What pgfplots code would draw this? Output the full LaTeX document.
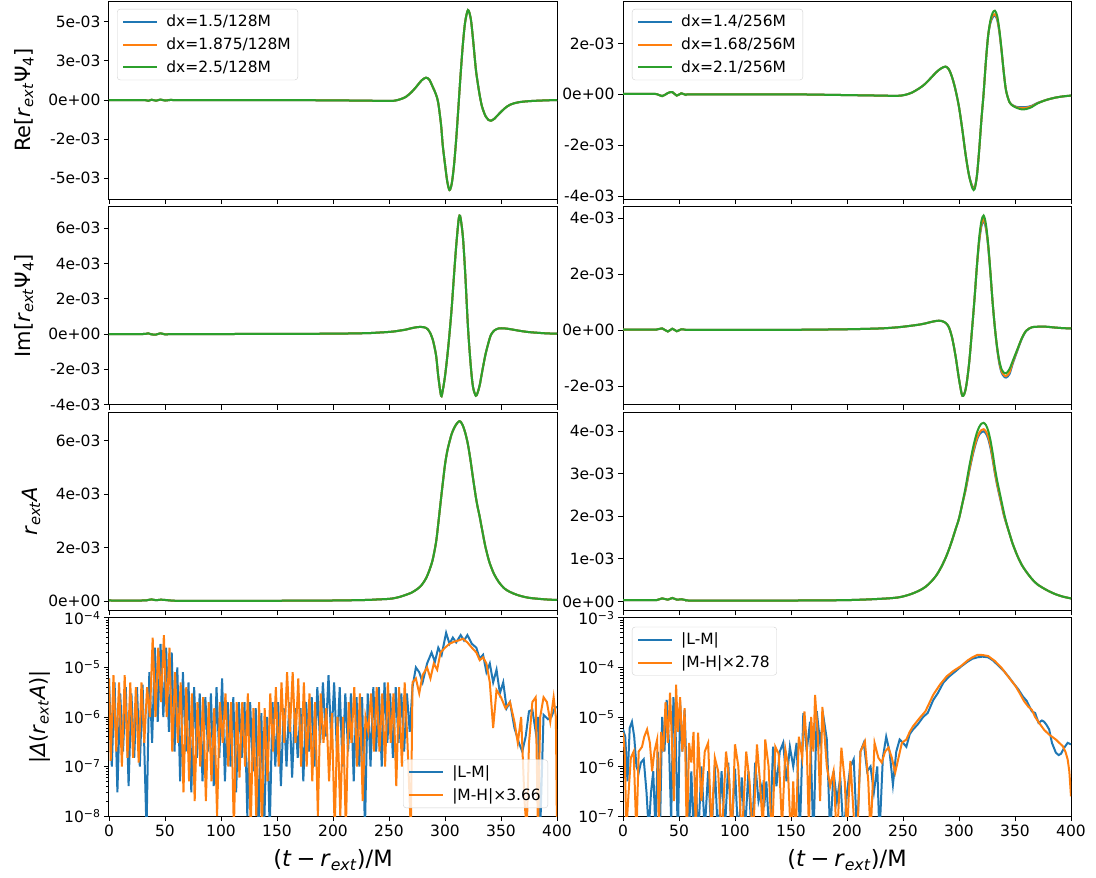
\documentclass[border=0pt]{standalone}
\usepackage{fontspec}
\setmainfont{DejaVu Sans}
\usepackage{pgfplots}
\usepackage{pgfplotstable}
\pgfplotsset{compat=1.18}
\definecolor{c0}{HTML}{1F77B4}
\definecolor{c1}{HTML}{FF7F0E}
\definecolor{c2}{HTML}{2CA02C}
\newcommand\tsz{\fontsize{15.5}{18.5}\selectfont}
\newcommand\lsz{\fontsize{21}{25}\selectfont}
\newcommand\xsz{\fontsize{22.5}{26}\selectfont}

% left column waveform (all three resolutions coincide), units of 1e-3
\pgfplotstableread{
t re im amp
0 0 0 0.03
30 0 0 0.03
35 -0.05 0.04 0.05
38 0.02 -0.02 0.07
42 -0.04 -0.03 0.04
46 0.03 0.04 0.06
50 -0.03 -0.02 0.05
55 0.01 0.0 0.03
60 0 0 0.02
100 0 0 0.02
150 0 0.01 0.02
200 -0.02 0.02 0.03
230 -0.04 0.05 0.05
240 -0.05 0.08 0.07
250 -0.06 0.12 0.09
255 -0.04 0.15 0.12
260 0.05 0.2 0.17
265 0.2 0.25 0.24
270 0.5 0.33 0.32
275 0.9 0.39 0.45
279 1.25 0.4 0.6
283 1.43 0.35 0.85
286 1.3 0.15 1.15
289 0.85 -0.3 1.55
292 0.35 -1.2 2.2
294 -0.2 -2.4 2.9
296.5 -1.6 -3.5 3.85
298 -2.9 -3.2 4.4
300 -4.1 -2.4 5.1
302 -5.2 -1.3 5.6
304 -5.75 0.0 5.95
306 -5.35 1.5 6.25
308 -4.2 3.3 6.45
310 -2.5 5.0 6.6
312 -0.43 6.4 6.7
313 0.65 6.72 6.72
314 1.7 6.55 6.7
316 3.6 5.5 6.55
318 4.98 3.5 6.3
320.5 5.75 0.4 5.85
323 5.2 -1.8 5.2
325 3.9 -3.0 4.6
327.5 2.0 -3.5 3.9
329 1.2 -3.35 3.55
331 0.3 -2.9 3.15
333 -0.4 -2.2 2.7
336 -1.0 -1.2 2.05
339 -1.28 -0.45 1.55
341 -1.32 -0.05 1.3
344 -1.2 0.2 1.0
348 -0.9 0.32 0.72
353 -0.55 0.32 0.48
358 -0.3 0.28 0.35
365 -0.15 0.2 0.23
375 -0.07 0.11 0.13
390 -0.02 0.04 0.07
400 0 0.02 0.05
}\leftwave

% right column waveform, units of 1e-3
\pgfplotstableread{
t reb reo reg imb imo img ab ao ag
0 0.02 0.02 0.02 0.02 0.02 0.02 0.03 0.03 0.03
20 0.02 0.02 0.02 0.02 0.02 0.02 0.03 0.03 0.03
30 0.01 0.01 0.01 0.02 0.02 0.02 0.03 0.03 0.03
35 -0.07 -0.07 -0.07 0.06 0.06 0.06 0.07 0.07 0.07
40 0.05 0.05 0.05 -0.05 -0.05 -0.05 0.04 0.04 0.04
44 0.09 0.09 0.09 0.05 0.05 0.05 0.08 0.08 0.08
48 -0.05 -0.05 -0.05 -0.04 -0.04 -0.04 0.04 0.04 0.04
52 0.04 0.04 0.04 0.03 0.03 0.03 0.05 0.05 0.05
56 -0.02 -0.02 -0.02 0.01 0.01 0.01 0.03 0.03 0.03
60 0 0 0 0.01 0.01 0.01 0.02 0.02 0.02
100 0 0 0 0.01 0.01 0.01 0.02 0.02 0.02
150 0 0 0 0.01 0.01 0.01 0.02 0.02 0.02
200 -0.03 -0.03 -0.03 0.03 0.03 0.03 0.03 0.03 0.03
230 -0.05 -0.05 -0.05 0.06 0.06 0.06 0.06 0.06 0.06
245 -0.06 -0.06 -0.06 0.1 0.1 0.1 0.09 0.09 0.09
252 -0.02 -0.02 -0.02 0.13 0.13 0.13 0.13 0.13 0.13
258 0.07 0.07 0.07 0.16 0.16 0.16 0.18 0.18 0.18
265 0.25 0.25 0.25 0.2 0.2 0.2 0.26 0.26 0.26
270 0.42 0.42 0.42 0.24 0.24 0.24 0.34 0.34 0.34
275 0.65 0.65 0.65 0.29 0.29 0.29 0.46 0.46 0.46
280 0.88 0.88 0.88 0.33 0.33 0.33 0.62 0.62 0.62
284 1.02 1.02 1.02 0.33 0.33 0.33 0.8 0.8 0.8
288 1.09 1.09 1.09 0.26 0.26 0.26 1.02 1.02 1.02
291 0.98 0.98 0.98 0.1 0.1 0.1 1.22 1.22 1.22
294 0.65 0.65 0.65 -0.3 -0.3 -0.3 1.45 1.45 1.45
297 0.15 0.15 0.15 -0.95 -0.95 -0.95 1.7 1.7 1.7
300 -0.5 -0.5 -0.5 -1.75 -1.75 -1.75 1.95 1.95 1.95
303 -1.4 -1.4 -1.4 -2.35 -2.35 -2.35 2.3 2.3 2.3
306 -2.4 -2.4 -2.4 -2.1 -2.1 -2.1 2.63 2.65 2.7
309 -3.2 -3.2 -3.2 -1.2 -1.2 -1.2 3.04 3.07 3.15
312 -3.62 -3.65 -3.7 0.2 0.2 0.2 3.41 3.45 3.55
314 -3.65 -3.68 -3.72 1.2 1.2 1.2 3.62 3.66 3.78
316 -3.2 -3.2 -3.2 2.3 2.3 2.3 3.8 3.84 3.97
318 -2.2 -2.2 -2.2 3.15 3.2 3.3 3.92 3.96 4.1
320 -1.0 -1.0 -1.0 3.72 3.78 3.9 3.98 4.03 4.18
322 0.05 0.05 0.05 3.9 3.97 4.1 4.0 4.05 4.2
324 1.3 1.3 1.3 3.65 3.7 3.8 3.95 4.0 4.15
326 2.3 2.3 2.3 3.0 3.05 3.1 3.83 3.88 4.02
328 2.8 2.85 2.9 2.05 2.08 2.1 3.62 3.67 3.8
330 3.02 3.08 3.2 1.0 1.0 1.0 3.34 3.38 3.5
332 3.1 3.15 3.29 0.1 0.1 0.1 3.02 3.05 3.15
334 2.95 3.0 3.1 -0.65 -0.62 -0.6 2.74 2.77 2.85
336 2.45 2.5 2.55 -1.2 -1.15 -1.1 2.5 2.53 2.6
338 1.7 1.72 1.75 -1.52 -1.47 -1.4 2.27 2.29 2.35
340 0.85 0.85 0.85 -1.65 -1.6 -1.52 2.03 2.05 2.1
342 0.15 0.15 0.15 -1.7 -1.65 -1.55 1.85 1.86 1.88
345 -0.3 -0.3 -0.3 -1.58 -1.52 -1.4 1.6 1.6 1.6
348 -0.43 -0.44 -0.45 -1.2 -1.15 -1.1 1.35 1.35 1.35
352 -0.5 -0.52 -0.54 -0.75 -0.72 -0.7 1.08 1.08 1.08
356 -0.5 -0.53 -0.59 -0.32 -0.3 -0.3 0.86 0.86 0.86
360 -0.5 -0.53 -0.58 -0.03 -0.02 -0.02 0.7 0.7 0.7
365 -0.45 -0.47 -0.5 0.1 0.1 0.1 0.53 0.53 0.53
370 -0.34 -0.35 -0.36 0.12 0.12 0.12 0.4 0.4 0.4
378 -0.22 -0.22 -0.22 0.12 0.12 0.12 0.27 0.27 0.27
386 -0.13 -0.13 -0.13 0.09 0.09 0.09 0.17 0.17 0.17
393 -0.08 -0.08 -0.08 0.07 0.07 0.07 0.11 0.11 0.11
400 -0.05 -0.05 -0.05 0.06 0.06 0.06 0.07 0.07 0.07
}\rightwave

\pgfplotsset{
 panel/.style={
   width=448pt, height=198.1pt, scale only axis,
   xmin=0, xmax=400, xtick={0,50,100,150,200,250,300,350,400},
   tick align=outside, tick pos=left,
   major tick length=5pt, minor tick length=3pt,
   axis line style={line width=1pt},
   tick style={black, line width=0.9pt},
   tick label style={font=\tsz},
   every axis plot/.append style={line width=2pt},
   every axis y label/.style={rotate=90, anchor=center, font=\lsz, at={(rel axis cs:-0.19,0.5)}},
   every axis x label/.style={anchor=center, font=\xsz, at={(rel axis cs:0.5,-0.222)}},
   legend style={draw=black!18, rounded corners=3pt, fill=white, fill opacity=0.8, text opacity=1, font=\tsz, inner xsep=5pt, inner ysep=4pt, row sep=5.5pt, cells={anchor=west},
     /tikz/every odd column/.append style={column sep=6pt}},
   legend image code/.code={\draw[#1, line width=2pt] (0pt,0pt) -- (34pt,0pt);},
 },
 wave/.style={panel, xticklabels={}, every axis plot/.append style={smooth, tension=0.5}},
 botrow/.style={xticklabels={0,50,100,150,200,250,300,350,400}, xlabel={(\textit{t}\hspace{0.22em}−\hspace{0.22em}\textit{r}\textsubscript{\textit{ext}})/M}},
}

\begin{document}
\begin{tikzpicture}
\path[use as bounding box] (0pt,0pt) rectangle (1096pt,-878pt);

% ---------------- Row 1 left ----------------
\begin{axis}[wave, at={(109pt,-1pt)}, anchor=north west,
  ymin=-6.33, ymax=6.33, ytick={-5,-2.5,0,2.5,5},
  yticklabels={-5e-03,-2e-03,0e+00,3e-03,5e-03},
  ylabel={Re[\textit{r}\textsubscript{\textit{ext}}Ψ\textsubscript{4}]},
  legend style={at={(0.018,0.96)}, anchor=north west}]
\addplot[c0] table[x=t,y=re] {\leftwave};
\addlegendentry{dx=1.5/128M}
\addplot[c1] table[x=t,y=re] {\leftwave};
\addlegendentry{dx=1.875/128M}
\addplot[c2] table[x=t,y=re] {\leftwave};
\addlegendentry{dx=2.5/128M}
\end{axis}

% ---------------- Row 1 right ----------------
\begin{axis}[wave, at={(623pt,-1pt)}, anchor=north west,
  ymin=-4.12, ymax=3.67, ytick={-4,-2,0,2},
  yticklabels={-4e-03,-2e-03,0e+00,2e-03},
  legend style={at={(0.02,0.96)}, anchor=north west}]
\addplot[c0] table[x=t,y=reb] {\rightwave};
\addlegendentry{dx=1.4/256M}
\addplot[c1] table[x=t,y=reo] {\rightwave};
\addlegendentry{dx=1.68/256M}
\addplot[c2] table[x=t,y=reg] {\rightwave};
\addlegendentry{dx=2.1/256M}
\end{axis}

% ---------------- Row 2 left ----------------
\begin{axis}[wave, at={(109pt,-206.6pt)}, anchor=north west,
  ymin=-4.01, ymax=7.23, ytick={-4,-2,0,2,4,6},
  yticklabels={-4e-03,-2e-03,0e+00,2e-03,4e-03,6e-03},
  ylabel={Im[\textit{r}\textsubscript{\textit{ext}}Ψ\textsubscript{4}]}]
\addplot[c0] table[x=t,y=im] {\leftwave};
\addplot[c1] table[x=t,y=im] {\leftwave};
\addplot[c2] table[x=t,y=im] {\leftwave};
\end{axis}

% ---------------- Row 2 right ----------------
\begin{axis}[wave, at={(623pt,-206.6pt)}, anchor=north west,
  ymin=-2.67, ymax=4.42, ytick={-2,0,2,4},
  yticklabels={-2e-03,0e+00,2e-03,4e-03}]
\addplot[c0] table[x=t,y=imb] {\rightwave};
\addplot[c1] table[x=t,y=imo] {\rightwave};
\addplot[c2] table[x=t,y=img] {\rightwave};
\end{axis}

% ---------------- Row 3 left ----------------
\begin{axis}[wave, at={(109pt,-412.2pt)}, anchor=north west,
  ymin=-0.336, ymax=7.056, ytick={0,2,4,6},
  yticklabels={0e+00,2e-03,4e-03,6e-03},
  every axis y label/.append style={at={(rel axis cs:-0.174,0.5)}},
  ylabel={\textit{r}\textsubscript{\textit{ext}}\textit{A}}]
\addplot[c0] table[x=t,y=amp] {\leftwave};
\addplot[c1] table[x=t,y=amp] {\leftwave};
\addplot[c2] table[x=t,y=amp] {\leftwave};
\end{axis}

% ---------------- Row 3 right ----------------
\begin{axis}[wave, at={(623pt,-412.2pt)}, anchor=north west,
  ymin=-0.21, ymax=4.45, ytick={0,1,2,3,4},
  yticklabels={0e+00,1e-03,2e-03,3e-03,4e-03}]
\addplot[c0] table[x=t,y=ab] {\rightwave};
\addplot[c1] table[x=t,y=ao] {\rightwave};
\addplot[c2] table[x=t,y=ag] {\rightwave};
\end{axis}

% ---------------- Row 4 left ----------------
\begin{axis}[panel, botrow, at={(109pt,-617.9pt)}, anchor=north west,
  ymode=log, ymin=1e-8, ymax=1e-4, ytick={1e-8,1e-7,1e-6,1e-5,1e-4},
  yticklabels={10\textsuperscript{−8},10\textsuperscript{−7},10\textsuperscript{−6},10\textsuperscript{−5},10\textsuperscript{−4}},
  every axis y label/.append style={at={(rel axis cs:-0.154,0.5)}},
  ylabel={|\textit{Δ}(\textit{r}\textsubscript{\textit{ext}}\textit{A})|},
  legend style={at={(0.98,0.04)}, anchor=south east}]
\addplot[c0] coordinates {(0,6e-6)(2.5,1e-7)(5,5e-6)(7.5,3e-8)(10,3e-6)(12.5,2e-7)(15,4e-6)(17.5,4e-8)(20,3e-6)(22.5,1.5e-7)(25,4e-6)(27.5,1e-7)(30,4.5e-6)(33.5,5e-9)(36,8e-6)(38.5,3e-7)(41,2.5e-5)(43.5,8e-7)(46,3e-5)(48.5,1e-6)(51,2.5e-5)(53.5,5e-7)(56,2e-5)(58.5,2e-7)(61,1e-5)(63.5,5e-8)(66,8e-6)(68.5,2e-7)(71,5e-6)(73.5,3e-8)(76,4e-6)(78.5,1.5e-7)(81,3e-6)(83.5,5e-8)(86,2.5e-6)(88.5,2e-7)(91,3e-6)(93.5,4e-8)(96,4e-6)(98.5,1.5e-7)(101,6e-6)(103.5,5e-8)(106,2e-6)(108.5,1e-7)(111,2.5e-6)(113.5,3e-8)(116,2e-6)(118.5,1.5e-7)(121,2e-6)(123.5,1e-8)(126,2e-6)(128.5,8e-8)(131,1.5e-6)(133.5,5e-9)(136,1.2e-6)(138.5,5e-9)(141,1e-6)(143.5,5e-9)(146,2e-6)(148.5,1e-7)(151,2e-6)(153.5,4e-8)(156,1.5e-6)(158.5,1e-7)(161,2e-6)(163.5,6e-8)(166,1.5e-6)(168.5,1.5e-7)(171,1.5e-6)(173.5,5e-8)(176,2e-6)(178.5,2e-7)(181,2.5e-6)(183.5,1e-7)(186,4e-6)(188.5,3e-7)(191,5e-6)(193.5,4e-7)(196,7e-6)(198.5,3e-7)(201,5e-6)(203.5,2e-7)(206,4e-6)(208.5,1e-7)(211,3e-6)(213.5,2e-7)(216,3e-6)(218.5,5e-8)(221,2.5e-6)(223.5,1e-7)(226,2.5e-6)(228.5,5e-9)(231,3e-6)(233.5,1e-7)(236,4e-6)(238.5,2e-7)(241,4e-6)(243.5,1e-7)(246,5e-6)(248.5,3e-7)(251,3e-6)(253.5,1.5e-7)(256,4e-6)(258.5,3e-7)(261,3e-6)(263.5,2e-7)(266,3e-6)(268.5,5e-7)(271,4e-6)(274,1e-5)(277,8e-6)(280,5e-6)(284,1.2e-5)(288,2e-5)(291,1.3e-5)(294,2.5e-5)(297,1.8e-5)(301,5e-5)(304,3e-5)(307,4e-5)(310,3.2e-5)(314,4.5e-5)(317,3.5e-5)(320,4.5e-5)(324,3e-5)(328,2.5e-5)(331,1.5e-5)(334,1.8e-5)(337,8e-6)(340,1.2e-5)(343,5e-6)(346,9e-6)(349,3e-6)(352,5e-6)(355,1.5e-6)(358,2e-6)(362,6e-7)(366,3e-7)(369,2e-7)(372,4e-7)(375,1.3e-6)(378,1.4e-6)(381,5e-7)(383,1e-6)(385,5e-9)(388,1.1e-6)(392,9e-7)(395,1e-6)(398,1.5e-6)(400,1.6e-6)};
\addlegendentry{|L-M|}
\addplot[c1] coordinates {(0,6e-6)(1.5,1.3e-7)(4,7e-6)(6.5,2e-7)(9,5e-6)(11.5,1e-7)(14,7e-6)(16.5,1.5e-7)(19,5e-6)(21.5,1.5e-7)(24,4e-6)(26.5,1.2e-7)(29,5e-6)(31.5,3e-7)(34,4e-6)(36.5,1e-6)(39,4e-5)(41.5,1e-6)(44,2.5e-5)(46.5,2e-6)(49,4.5e-5)(51.5,1e-6)(54,2.5e-5)(56.5,2e-7)(59,8e-6)(61.5,3e-7)(64,5e-6)(66.5,3e-8)(69,4e-6)(71.5,5e-8)(74,3e-6)(76.5,2e-8)(79,2e-6)(81.5,1e-7)(84,2.5e-6)(86.5,2e-8)(89,2e-6)(91.5,5e-8)(94,1.5e-6)(96.5,1e-8)(99,2e-6)(101.5,3e-7)(104,3e-6)(106.5,1e-7)(109,2e-6)(111.5,5e-9)(114,2e-6)(116.5,6e-8)(119,2e-6)(121.5,1e-7)(124,3e-6)(126.5,5e-9)(129,1.5e-6)(131.5,1e-8)(134,2e-6)(136.5,5e-9)(139,1.5e-6)(141.5,5e-8)(144,3e-6)(146.5,2e-7)(149,4e-6)(151.5,1e-7)(154,5e-6)(156.5,3e-7)(159,8e-6)(161.5,5e-7)(164,8e-6)(166.5,3e-7)(169,6e-6)(171.5,1e-7)(174,5e-6)(176.5,1e-7)(179,3e-6)(181.5,5e-8)(184,2e-6)(186.5,1e-8)(189,3e-6)(191.5,3e-7)(194,1.5e-6)(196.5,5e-8)(199,1.2e-6)(201.5,5e-9)(204,1e-6)(206.5,1e-8)(209,1e-6)(211.5,5e-9)(214,2e-6)(216.5,3e-7)(219,4e-6)(221.5,1e-7)(224,3e-6)(226.5,2e-8)(229,1e-6)(231.5,5e-7)(234,3e-6)(236.5,2e-7)(239,4e-6)(241.5,2e-7)(244,3e-6)(246.5,1e-7)(249,5e-6)(251.5,3e-7)(254,3e-6)(256.5,4e-8)(259,4e-6)(261.5,1e-7)(264,5e-6)(266.5,3e-7)(269.5,5e-9)(271,5e-6)(274,6e-6)(277,3e-6)(280,7e-6)(284,1e-5)(287,6e-6)(290,1.2e-5)(293,9e-6)(296,2e-5)(300,2.5e-5)(304,3e-5)(308,3.3e-5)(312,3.5e-5)(316,3.8e-5)(320,3.2e-5)(324,2.5e-5)(328,2e-5)(331,1.4e-5)(334,1.6e-5)(337,1.2e-5)(340,5e-6)(343,6e-7)(346,3.5e-6)(350,2.5e-6)(354,1.5e-6)(358,2e-6)(362,8e-7)(365,3e-7)(368,1e-6)(371,2e-8)(373,5e-9)(375,3e-7)(378,2e-6)(381,2.5e-6)(383,5e-9)(385,1e-6)(388,2.5e-6)(391,2e-6)(394,8e-7)(397,2.5e-6)(399,1e-6)(400,5e-9)};
\addlegendentry{|M-H|×3.66}
\end{axis}

% ---------------- Row 4 right ----------------
\begin{axis}[panel, botrow, at={(623pt,-617.9pt)}, anchor=north west,
  ymode=log, ymin=1e-7, ymax=1e-3, ytick={1e-7,1e-6,1e-5,1e-4,1e-3},
  yticklabels={10\textsuperscript{−7},10\textsuperscript{−6},10\textsuperscript{−5},10\textsuperscript{−4},10\textsuperscript{−3}},
  legend style={at={(0.02,0.955)}, anchor=north west}]
\addplot[c0] coordinates {(0,5.6e-6)(2,4e-6)(4,5e-7)(6,6e-6)(8,8e-6)(10,4e-6)(12,1e-6)(14,7.5e-7)(16,1.2e-6)(18.5,1.4e-6)(21,3e-7)(23,5e-8)(25,3e-7)(27,8e-7)(29,5e-8)(31,2e-6)(33,5e-8)(35,1e-5)(37,2e-6)(39,2.2e-5)(41,3e-6)(43,8e-8)(45,2.5e-5)(47,5e-6)(49,3e-8)(51,2e-5)(53,2e-6)(55,1.4e-5)(57,5e-7)(59,5e-8)(61,8e-7)(63,5e-8)(65,6e-7)(67,3e-8)(70,1e-6)(73,5e-8)(76,8e-7)(79,4e-8)(82,1e-6)(85,3e-8)(88,8e-7)(91,5e-8)(94,1.2e-6)(97,4e-8)(100,9e-7)(103,3e-8)(106,6e-7)(109,5e-8)(112,8e-7)(115,3e-8)(118,1.2e-6)(121,2e-7)(124,4e-7)(126,1.5e-7)(128,5e-7)(131,3e-8)(134,2.5e-6)(137,4e-7)(140,2e-6)(143,3e-6)(146,5e-7)(149,2.5e-6)(152,1e-6)(155,3e-6)(158,5e-8)(161,1.2e-5)(164,2e-6)(167,8e-6)(170,3e-8)(173,1.3e-5)(176,3e-6)(179,1e-5)(182,3.5e-6)(185,4e-8)(188,8e-7)(191,2e-7)(194,6e-7)(197,4e-8)(200,3e-7)(203,1e-6)(206,1.4e-6)(209,4e-8)(212,2e-6)(215,3e-6)(218,8e-7)(221,1e-6)(224,3e-7)(227,1e-6)(229,4e-8)(232,1.5e-6)(235,4e-6)(238,2e-6)(241,4.3e-7)(244,2e-6)(247,3.5e-6)(250,3e-6)(253,2.5e-6)(256,4.5e-6)(259,5.6e-6)(263,7e-6)(268,1e-5)(272,1.2e-5)(277,2.2e-5)(281,3e-5)(286,4.9e-5)(291,6.5e-5)(297,8.4e-5)(302,1.05e-4)(307.5,1.3e-4)(312,1.5e-4)(316.5,1.6e-4)(321,1.65e-4)(326,1.6e-4)(330,1.4e-4)(335,1.1e-4)(340,8.5e-5)(344,6.6e-5)(348,5e-5)(353,3.6e-5)(357,2.6e-5)(360.5,2.1e-5)(363,1.6e-5)(365,1.3e-5)(368,1.2e-5)(371,7.6e-6)(374,8.5e-6)(376,8e-6)(378,7e-6)(380.5,5.6e-6)(383,3e-6)(386.5,1.9e-6)(389,1.7e-6)(391,1.8e-6)(394,2.4e-6)(397,3e-6)(400,2.8e-6)};
\addlegendentry{|L-M|}
\addplot[c1] coordinates {(0,4.8e-6)(1.5,2e-6)(3,5e-8)(5,3e-7)(7,1.5e-6)(9.5,2e-6)(12,4e-8)(14,2e-6)(17,2.5e-6)(19,4e-6)(21.5,5.6e-6)(24,3e-6)(26,8e-7)(28,2e-6)(30.5,3.5e-6)(32,5e-8)(34,5e-6)(36,2e-6)(38,2e-5)(40,3e-6)(42,3.1e-5)(44,2e-6)(45.5,2e-7)(47.4,4.5e-5)(49,5e-6)(51,2.5e-5)(53,2e-6)(55,1.5e-5)(57,3e-8)(59,3e-6)(61,1.2e-6)(63,5e-6)(65,4e-8)(67,4.8e-6)(70,2e-7)(73,2e-6)(76,3e-6)(79,5e-8)(82,1.5e-6)(85,8e-7)(88,3e-8)(92,2e-6)(95,5e-7)(97,3e-8)(100,2.8e-6)(103,1e-6)(106,3e-8)(110,2e-6)(113,5e-7)(116,3e-8)(119.6,2.8e-6)(122,6e-7)(125,5e-8)(127,3.5e-6)(130,1e-6)(133,3e-8)(136,2.5e-6)(139,1.8e-6)(142,6e-8)(145,2.2e-6)(147,1.2e-6)(150,3e-8)(152,5e-7)(154,3e-8)(157,4e-6)(160,1.5e-6)(162,1.3e-5)(164,3e-6)(166,5e-8)(168,1e-5)(170,2e-6)(171.5,2.8e-5)(174,4e-6)(176,2e-7)(178,1.6e-5)(180,4e-6)(182,1e-6)(185,4e-7)(188,8e-7)(191,3e-8)(195,2.4e-6)(198,5e-7)(200,4e-8)(203,1.3e-6)(206,1e-7)(209,3e-8)(212,2e-6)(216,3.2e-6)(219,5e-7)(221,4e-8)(224.6,3e-6)(228,1.5e-6)(231,1.2e-6)(234,2e-6)(237,2.4e-6)(240,1.5e-6)(243,7.5e-7)(246,1.5e-6)(249,3e-6)(253,3.5e-6)(256,5e-6)(259,6.5e-6)(265,9.6e-6)(270,1.3e-5)(277,2.8e-5)(283,4.5e-5)(289,6.6e-5)(295,8.5e-5)(301.6,1.06e-4)(308,1.4e-4)(312,1.6e-4)(316.5,1.8e-4)(321,1.78e-4)(326,1.7e-4)(332,1.35e-4)(338,9.8e-5)(344,6.5e-5)(350.5,4.2e-5)(355,2.8e-5)(358,2.1e-5)(362,1.6e-5)(365,1.4e-5)(368,1e-5)(371.5,7.6e-6)(376,5.5e-6)(380.5,4.4e-6)(383,4e-6)(386.5,3.5e-6)(389.5,3e-6)(392.5,2.6e-6)(395,2e-6)(397,1.4e-6)(398.5,8e-7)(400,2.5e-7)};
\addlegendentry{|M-H|×2.78}
\end{axis}
\end{tikzpicture}
\end{document}
